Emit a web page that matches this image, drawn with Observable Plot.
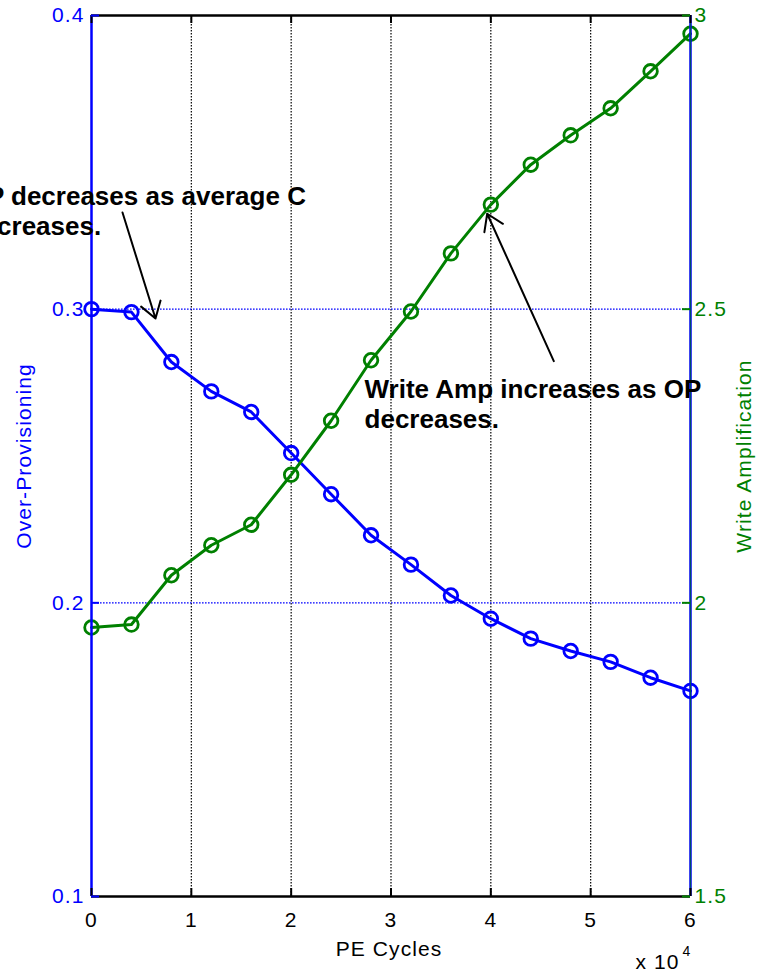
<!DOCTYPE html>
<html>
<head>
<meta charset="utf-8">
<script src="https://cdn.jsdelivr.net/npm/d3@7"></script>
<script src="https://cdn.jsdelivr.net/npm/@observablehq/plot@0.6"></script>
<style>
  body { margin: 0; background: #fff; }
  svg { display: block; }
  svg text { letter-spacing: 1.1px; }
  svg g[font-weight="bold"] text, svg text[font-weight="bold"] { letter-spacing: 0px; }
</style>
</head>
<body>
<div id="chart"></div>
<script>
// ---- data ----
const peCycles = [0, 4000, 8000, 12000, 16000, 20000, 24000, 28000, 32000, 36000, 40000, 44000, 48000, 52000, 56000, 60000];
const overProvisioning = [0.300, 0.299, 0.282, 0.272, 0.265, 0.251, 0.237, 0.223, 0.213, 0.2025, 0.1946, 0.1878, 0.1836, 0.1799, 0.1745, 0.170];
const writeAmplification = [1.958, 1.963, 2.047, 2.098, 2.133, 2.218, 2.310, 2.413, 2.496, 2.595, 2.678, 2.746, 2.796, 2.842, 2.905, 2.969];

const xTicks = [0, 10000, 20000, 30000, 40000, 50000, 60000];
const opTicks = [0.1, 0.2, 0.3, 0.4];
const waTicks = [1.5, 2, 2.5, 3];

// annotations (data units: PE cycles, over-provisioning)
const noteTexts = ["OP decreases as average C\ndecreases.", "Write Amp increases as OP\ndecreases."];
const noteX = [-12500, 27350];
const noteY = [0.3251, 0.2594];
const arrowX1 = [3105, 46307];
const arrowY1 = [0.3329, 0.2823];
const arrowX2 = [6411, 39636];
const arrowY2 = [0.2968, 0.3325];

// ---- mapping right axis (write amplification) onto left scale ----
const opDomain = [0.1, 0.4];
const waDomain = [1.5, 3];
const waToOp = v => opDomain[0] + (v - waDomain[0]) * (opDomain[1] - opDomain[0]) / (waDomain[1] - waDomain[0]);
const opToWa = v => waDomain[0] + (v - opDomain[0]) * (waDomain[1] - waDomain[0]) / (opDomain[1] - opDomain[0]);

const rows = peCycles.map((c, i) => ({c, op: overProvisioning[i], wa: writeAmplification[i]}));
const notes = noteTexts.map((t, i) => ({t, x: noteX[i], y: noteY[i]}));
const arrows = arrowX1.map((x1, i) => ({x1, y1: arrowY1[i], x2: arrowX2[i], y2: arrowY2[i]}));

const BLUE = "#0000ff";
const GREEN = "#008000";
const W = 759, H = 973;
const mL = 91, mR = 69, mT = 15, mB = 77;
const frameW = W - mL - mR, frameH = H - mT - mB;
const tickLen = 8;

const chart = Plot.plot({
  width: W,
  height: H,
  marginLeft: mL,
  marginRight: mR,
  marginTop: mT,
  marginBottom: mB,
  style: {fontFamily: "'Liberation Sans', Arial, Helvetica, sans-serif", fontSize: "21px", background: "#fff"},
  x: {domain: [0, 60000], label: null},
  y: {domain: opDomain, label: null},
  marks: [
    // grids
    Plot.gridX(xTicks.slice(1, -1), {stroke: "black", strokeOpacity: 1, strokeWidth: 1.2, strokeDasharray: "1.6,1.4"}),
    Plot.gridY(opTicks.slice(1), {stroke: BLUE, strokeOpacity: 1, strokeWidth: 1.2, strokeDasharray: "1.6,1.4"}),
    // data
    Plot.line(rows, {x: "c", y: "op", stroke: BLUE, strokeWidth: 3}),
    Plot.dot(rows, {x: "c", y: "op", r: 6.8, stroke: BLUE, strokeWidth: 2.8, fill: "none"}),
    Plot.line(rows, {x: "c", y: d => waToOp(d.wa), stroke: GREEN, strokeWidth: 3}),
    Plot.dot(rows, {x: "c", y: d => waToOp(d.wa), r: 6.8, stroke: GREEN, strokeWidth: 2.8, fill: "none"}),
    // axis lines
    Plot.ruleY([opDomain[0]], {stroke: "black", strokeWidth: 2.5}),
    Plot.ruleY([opDomain[1]], {stroke: "black", strokeWidth: 2.5}),
    Plot.ruleX([0], {stroke: BLUE, strokeWidth: 2.5}),
    Plot.ruleX([60000], {stroke: BLUE, strokeWidth: 2.5}),
    Plot.ruleX([60000], {stroke: GREEN, strokeWidth: 1.2, strokeOpacity: 0.6}),
    // inward ticks
    Plot.tickX(xTicks, {x: d => d, stroke: "black", strokeWidth: 2, insetTop: frameH - tickLen}),
    Plot.tickX(xTicks, {x: d => d, stroke: "black", strokeWidth: 2, insetBottom: frameH - tickLen}),
    Plot.tickY(opTicks, {y: d => d, stroke: BLUE, strokeWidth: 2, insetRight: frameW - tickLen}),
    Plot.tickY(waTicks.map(waToOp), {y: d => d, stroke: GREEN, strokeWidth: 2, insetLeft: frameW - tickLen}),
    // tick labels
    Plot.axisX({ticks: xTicks, tickSize: 0, tickPadding: 16, tickFormat: d => String(d / 1e4), color: "black", fontSize: 21, label: null}),
    Plot.axisY({anchor: "left", ticks: opTicks, tickSize: 0, tickPadding: 7, tickFormat: d => String(d), color: BLUE, fontSize: 21, label: null}),
    Plot.axisY({anchor: "right", ticks: waTicks.map(waToOp), tickSize: 0, tickPadding: 4, tickFormat: d => String(+opToWa(d).toFixed(2)), color: GREEN, fontSize: 21, label: null}),
    // axis titles
    Plot.text(["Over-Provisioning"], {frameAnchor: "left", textAnchor: "middle", lineAnchor: "middle", dx: -67, rotate: -90, fill: BLUE, fontSize: 21}),
    Plot.text(["Write Amplification"], {frameAnchor: "right", textAnchor: "middle", lineAnchor: "middle", dx: 54, rotate: -90, fill: GREEN, fontSize: 21}),
    Plot.text(["PE Cycles"], {frameAnchor: "bottom", textAnchor: "middle", dx: -2, dy: 59, lineAnchor: "bottom", fill: "black", fontSize: 21}),
    Plot.text(["x 10"], {frameAnchor: "bottom-right", dx: -55, dy: 72, lineAnchor: "bottom", textAnchor: "start", fill: "black", fontSize: 21}),
    Plot.text(["4"], {frameAnchor: "bottom-right", dx: -8, dy: 59, lineAnchor: "bottom", textAnchor: "start", fill: "black", fontSize: 14}),
    // annotations
    Plot.arrow(arrows, {x1: "x1", y1: "y1", x2: "x2", y2: "y2", stroke: "black", strokeWidth: 2, headLength: 14, headAngle: 66}),
    Plot.text(notes, {x: "x", y: "y", text: "t", textAnchor: "start", lineAnchor: "bottom", lineHeight: 1.18, fontSize: 26, fontWeight: "bold", fill: "black"})
  ]
});
document.getElementById("chart").appendChild(chart);
</script>
</body>
</html>
